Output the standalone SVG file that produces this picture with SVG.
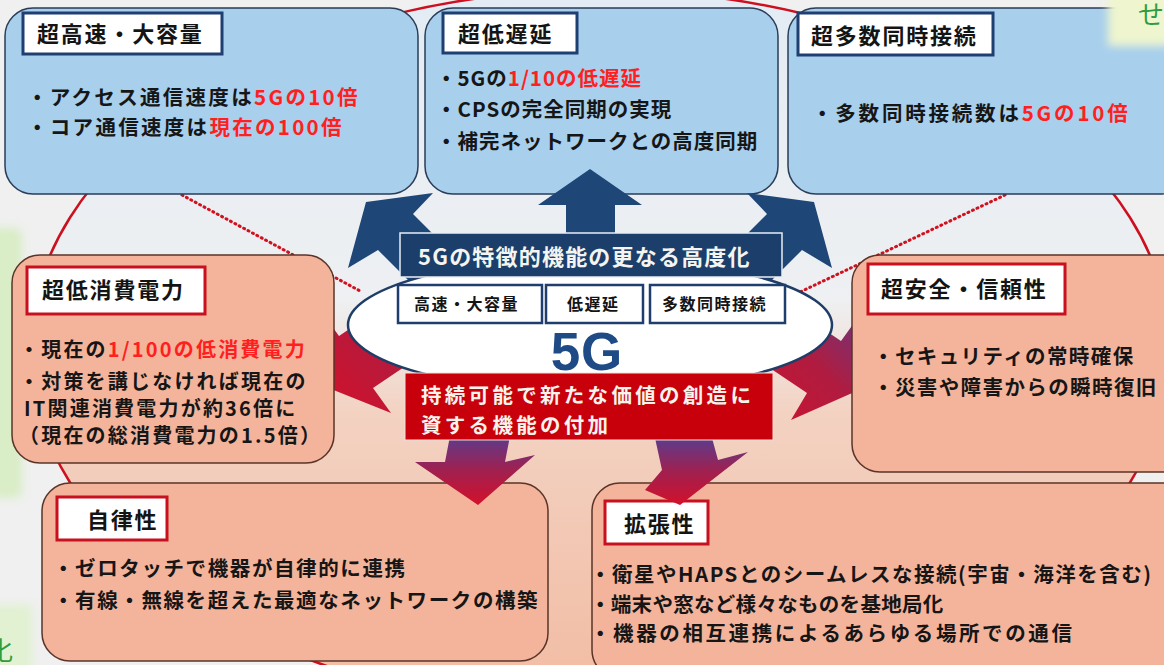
<svg xmlns="http://www.w3.org/2000/svg" width="1164" height="665" viewBox="0 0 1164 665">
<defs>
<linearGradient id="bgIn" x1="0" y1="0" x2="0" y2="665" gradientUnits="userSpaceOnUse">
<stop offset="0" stop-color="#e3ecf4"/><stop offset="0.45" stop-color="#eef0f2"/><stop offset="0.62" stop-color="#f3d2c2"/><stop offset="1" stop-color="#f2bea6"/>
</linearGradient>
<linearGradient id="redArr" x1="0" y1="0" x2="0" y2="1">
<stop offset="0" stop-color="#5b3c8c"/><stop offset="0.5" stop-color="#a02050"/><stop offset="1" stop-color="#d4102a"/>
</linearGradient>
<linearGradient id="redArrH" x1="1" y1="0" x2="0" y2="1">
<stop offset="0" stop-color="#5b3c8c"/><stop offset="0.45" stop-color="#b01c40"/><stop offset="1" stop-color="#d4102a"/>
</linearGradient>
<filter id="blur" x="-50%" y="-50%" width="200%" height="200%"><feGaussianBlur stdDeviation="4"/></filter>
<style>
.bbox{fill:#a8cfec;stroke:#2a3c58;stroke-width:1.5}
.sbox{fill:#f4b49b;stroke:#5a3428;stroke-width:1.5}
.tb{fill:#fff;stroke:#1f3f73;stroke-width:3}
.tr{fill:#fff;stroke:#c8101e;stroke-width:3}
text{font-family:"Noto Sans CJK JP","Noto Sans",sans-serif;font-weight:700}
.tt{font-size:22px;fill:#141414;letter-spacing:1.8px}
.b{font-size:20.5px;fill:#161616;letter-spacing:1px}
.b1{letter-spacing:2.3px}
.b3{letter-spacing:2.8px}
.bl{font-size:20px;letter-spacing:2.2px}
.bs{letter-spacing:1.4px}
.ba{letter-spacing:1.6px}
.r{fill:#ff1f1f}
.sm{font-size:16px;fill:#141414;letter-spacing:1.5px}
.wt{font-size:22px;fill:#f4f4f0;letter-spacing:1.2px}
.wr{font-size:20.5px;fill:#f8f4ec;letter-spacing:3.3px}
.bar{fill:#1e4677}
.dot{fill:none;stroke:#d2101e;stroke-width:3;stroke-dasharray:1 4;stroke-linecap:round}
</style>
</defs>

<rect width="1164" height="665" fill="#eff0ef"/>
<g filter="url(#blur)">
<rect x="-10" y="228" width="32" height="270" rx="8" fill="#d9edc6"/>
<rect x="-10" y="605" width="42" height="80" fill="#e1f1d2"/>
</g>

<ellipse id="ring" cx="600" cy="350" rx="570" ry="360" fill="url(#bgIn)" stroke="#cc1020" stroke-width="2.5"/>

<g id="connectors">
<line class="dot" x1="182" y1="195" x2="362" y2="292"/>
<line class="dot" x1="1005" y1="195" x2="800" y2="292"/>
<polygon id="arrow-left" fill="url(#redArrH)" points="321,385 321,311 339,336 422,280 456,332 373,388 391,413"/>
<polygon id="arrow-right" fill="url(#redArrH)" points="859,390 859,316 841,341 758,285 724,337 807,393 791,420"/>
</g>

<g id="node-capacity">
<rect class="bbox" x="5" y="8" width="413" height="186" rx="28"/>
<rect class="tb" x="23" y="13" width="199" height="41"/>
<text class="tt" x="37" y="42">超高速・大容量</text>
<text class="b b1" x="27" y="105">・アクセス通信速度は<tspan class="r">5Gの10倍</tspan></text>
<text class="b b1" x="27" y="135">・コア通信速度は<tspan class="r">現在の100倍</tspan></text>
</g>

<g id="node-latency">
<rect class="bbox" x="425" y="8" width="353" height="186" rx="28"/>
<rect class="tb" x="443" y="13" width="134" height="40"/>
<text class="tt" x="458" y="42">超低遅延</text>
<text class="b" x="436" y="86">・5Gの<tspan class="r">1/10の低遅延</tspan></text>
<text class="b" x="436" y="117">・CPSの完全同期の実現</text>
<text class="b" x="436" y="149">・補完ネットワークとの高度同期</text>
</g>

<g id="node-connections">
<rect class="bbox" x="788" y="8" width="400" height="186" rx="28"/>
<rect class="tb" x="798" y="13" width="195" height="42"/>
<text class="tt" x="811" y="44">超多数同時接続</text>
<text class="b b3" x="812" y="121">・多数同時接続数は<tspan class="r">5Gの10倍</tspan></text>
</g>

<g id="node-power">
<rect class="sbox" x="12" y="255" width="322" height="208" rx="28"/>
<rect class="tr" x="27" y="267" width="178" height="47"/>
<text class="tt" x="42" y="298">超低消費電力</text>
<text class="b bl" x="19" y="357">・現在の<tspan class="r">1/100の低消費電力</tspan></text>
<text class="b bl" x="19" y="389">・対策を講じなければ現在の</text>
<text class="b bl" x="24" y="416">IT関連消費電力が約36倍に</text>
<text class="b bl" x="19" y="443">（現在の総消費電力の1.5倍）</text>
</g>

<g id="node-security">
<rect class="sbox" x="852" y="255" width="340" height="217" rx="28"/>
<rect class="tr" x="868" y="264" width="197" height="50"/>
<text class="tt" x="881" y="297">超安全・信頼性</text>
<text class="b bs" x="873" y="364">・セキュリティの常時確保</text>
<text class="b bs" x="873" y="395">・災害や障害からの瞬時復旧</text>
</g>

<g id="node-autonomy">
<rect class="sbox" x="42" y="483" width="506" height="178" rx="28"/>
<rect class="tr" x="57" y="497" width="110" height="43"/>
<text class="tt" x="87" y="528">自律性</text>
<text class="b ba" x="53" y="576">・ゼロタッチで機器が自律的に連携</text>
<text class="b ba" x="53" y="608">・有線・無線を超えた最適なネットワークの構築</text>
</g>

<g id="node-expansion">
<rect class="sbox" x="592" y="483" width="600" height="195" rx="28"/>
<rect class="tr" x="605" y="501" width="103" height="43"/>
<text class="tt" x="624" y="532">拡張性</text>
<text class="b" x="590" y="582" style="letter-spacing:1.5px">・衛星やHAPSとのシームレスな接続(宇宙・海洋を含む)</text>
<text class="b" x="590" y="612" style="letter-spacing:0.3px">・端末や窓など様々なものを基地局化</text>
<text class="b" x="590" y="641" style="letter-spacing:2.6px">・機器の相互連携によるあらゆる場所での通信</text>
</g>

<g id="connectors-front">
<polygon class="bar" points="366,202 433,193 413,214 447,248 412,284 378,250 348,268"/>
<polygon class="bar" points="814,202 747,193 767,214 733,248 768,284 802,250 832,268"/>
<polygon class="bar" points="590,169 642,205 615,205 615,240 566,240 566,205 538,205"/>
<polygon fill="url(#redArr)" points="450,436 510,436 505,462 535,455 478,505 415,462 445,462"/>
<polygon fill="url(#redArr)" points="655,438 712,438 718,460 748,452 680,505 645,490 662,470"/>
</g>

<g id="node-5g">
<ellipse cx="590" cy="325" rx="242" ry="67" fill="#fff" stroke="#1f3d66" stroke-width="2.5"/>
<rect x="400" y="233" width="382" height="44" fill="#1c3e6a" stroke="#e8eef5" stroke-width="1.5"/>
<text class="wt" x="418" y="265">5Gの特徴的機能の更なる高度化</text>
<rect x="398" y="285" width="144" height="38" fill="#fff" stroke="#1f3d6e" stroke-width="2.5"/>
<rect x="546" y="285" width="97" height="38" fill="#fff" stroke="#1f3d6e" stroke-width="2.5"/>
<rect x="650" y="285" width="135" height="38" fill="#fff" stroke="#1f3d6e" stroke-width="2.5"/>
<text class="sm" x="414" y="310">高速・大容量</text>
<text class="sm" x="567" y="310">低遅延</text>
<text class="sm" x="662" y="310">多数同時接続</text>
<text x="587" y="370" text-anchor="middle" style="font-family:'Liberation Sans',sans-serif;font-size:53px;font-weight:700;fill:#1e4a86;letter-spacing:1px">5G</text>
<rect x="405" y="373" width="368" height="67" fill="#c8000c" stroke="#f4e0d8" stroke-width="1"/>
<text class="wr" x="421" y="403">持続可能で新たな価値の創造に</text>
<text class="wr" x="421" y="433">資する機能の付加</text>
</g>

<g id="edge-fragments">
<rect x="1108" y="-10" width="70" height="56" fill="#eef5cf" filter="url(#blur)"/>
<text x="1138" y="24" style="font-size:26px;font-weight:400;fill:#2f9d3c">せ</text>
<text x="-13" y="660" style="font-size:26px;font-weight:400;fill:#2f9d3c">化</text>
</g>
</svg>
